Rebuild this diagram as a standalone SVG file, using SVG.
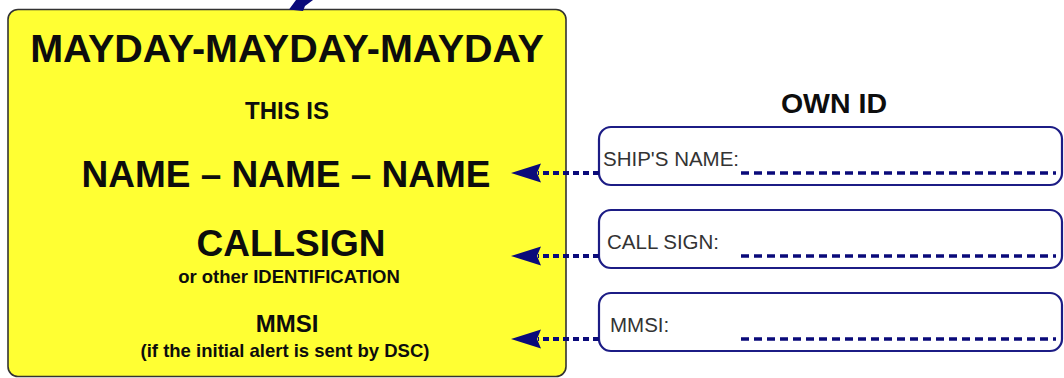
<svg xmlns="http://www.w3.org/2000/svg" width="1064" height="378" viewBox="0 0 1064 378">
  <defs>
    <style>
      .card { fill: #ffff33; stroke: #333333; stroke-width: 1.6; }
      .field { fill: #ffffff; stroke: #1c1c85; stroke-width: 2.2; }
      .bold { font-family: "Liberation Sans", Arial, sans-serif; font-weight: bold; fill: #0d0d0d; text-anchor: middle; }
      .label { font-family: "Liberation Sans", Arial, sans-serif; font-size: 20.5px; fill: #333333; }
      .fill-line { stroke: #0a0a7a; stroke-width: 3.5; stroke-dasharray: 8 5; fill: none; }
      .link { stroke: #0a0a7a; stroke-width: 4; stroke-dasharray: 6 4; fill: none; }
      .head { fill: #0a0a7a; }
    </style>
  </defs>

  <rect width="1064" height="378" fill="#ffffff"/>

  <!-- message card -->
  <g id="message">
    <rect class="card" x="8" y="9.5" width="558" height="367" rx="10"/>
    <text class="bold" x="287" y="62" font-size="39.5">MAYDAY-MAYDAY-MAYDAY</text>
    <text class="bold" x="287" y="119" font-size="24">THIS IS</text>
    <text class="bold" x="286" y="187" font-size="37">NAME – NAME – NAME</text>
    <text class="bold" x="291" y="256" font-size="37">CALLSIGN</text>
    <text class="bold" x="289" y="283" font-size="18.5">or other IDENTIFICATION</text>
    <text class="bold" x="287" y="332" font-size="24">MMSI</text>
    <text class="bold" x="285" y="357" font-size="18.5">(if the initial alert is sent by DSC)</text>
  </g>

  <!-- incoming arrow at the top edge -->
  <g id="top-arrow">
    <polygon class="head" points="289,9.5 296,0 313,0 305,6 303,11"/>
  </g>

  <!-- own identification fields -->
  <g id="own-id">
    <text class="bold" x="834" y="113" font-size="28.5">OWN ID</text>
  </g>

  <g id="ship-name">
    <rect class="field" x="599" y="127" width="463" height="58" rx="12"/>
    <text class="label" x="603" y="166">SHIP'S NAME:</text>
    <line class="fill-line" x1="741" y1="173" x2="1056" y2="173"/>
  </g>

  <g id="call-sign">
    <rect class="field" x="599" y="210" width="463" height="58" rx="12"/>
    <text class="label" x="607" y="249">CALL SIGN:</text>
    <line class="fill-line" x1="741" y1="256" x2="1056" y2="256"/>
  </g>

  <g id="mmsi">
    <rect class="field" x="599" y="293" width="463" height="58" rx="12"/>
    <text class="label" x="610" y="332">MMSI:</text>
    <line class="fill-line" x1="741" y1="339" x2="1056" y2="339"/>
  </g>

  <!-- connectors from fields into the message -->
  <g id="connectors">
    <line class="link" x1="599" y1="173" x2="538" y2="173"/>
    <path class="head" d="M511,173 L541,163.5 L537,173 L541,182.5 Z"/>
    <line class="link" x1="599" y1="256" x2="538" y2="256"/>
    <path class="head" d="M511,256 L541,246.5 L537,256 L541,265.5 Z"/>
    <line class="link" x1="599" y1="339" x2="538" y2="339"/>
    <path class="head" d="M511,339 L541,329.5 L537,339 L541,348.5 Z"/>
  </g>
</svg>
